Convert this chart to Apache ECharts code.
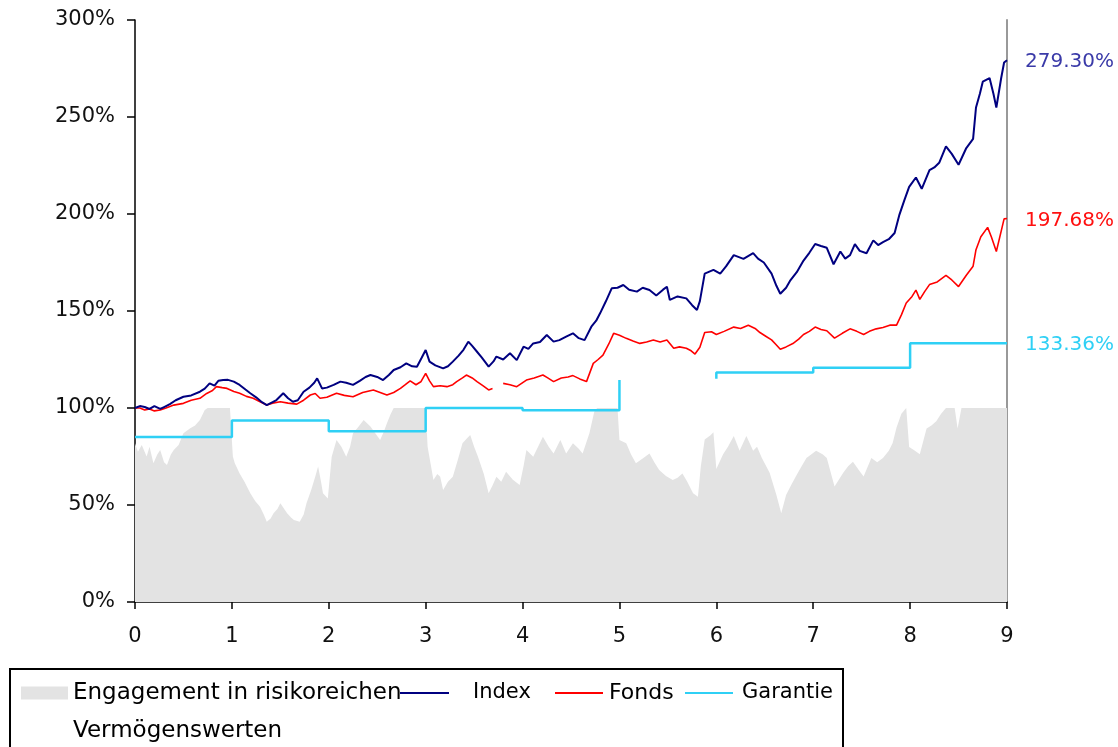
<!DOCTYPE html>
<html>
<head>
<meta charset="utf-8">
<script src="https://cdn.jsdelivr.net/npm/echarts@6/dist/echarts.min.js"></script>
<style>
html,body{margin:0;padding:0;background:#fff;}
#chart{width:1118px;height:747px;}
</style>
</head>
<body>
<div id="chart"></div>
<script>
// ---- data (years, percent) ----
const xTicks = [0,1,2,3,4,5,6,7,8,9];
const seriesNames = ['Engagement in risikoreichen Vermögenswerten','Index','Fonds','Garantie'];

const engagement = [
[0,81.8],[0.03,77.5],[0.07,80.9],[0.12,75],[0.15,80],[0.19,71.5],[0.23,76],[0.26,78.4],[0.3,72],[0.33,70.6],
[0.37,76],[0.4,78.4],[0.45,80.9],[0.5,87],[0.57,89.5],[0.62,91],[0.67,93.8],[0.72,99],[0.75,100],[0.98,100],
[1.01,75],[1.03,71.5],[1.08,66.3],[1.13,62],[1.19,56],[1.24,52],[1.29,49.1],[1.33,45],[1.36,41.4],[1.4,43],
[1.43,45.7],[1.47,48],[1.5,50.9],[1.54,48],[1.57,45.7],[1.61,43.5],[1.64,42.3],[1.7,41.4],[1.74,45],[1.77,50.9],
[1.82,58],[1.86,64.6],[1.89,69.8],[1.92,62],[1.94,56],[1.99,53.4],[2.03,74.9],[2.08,83.5],[2.13,80],[2.18,74.9],
[2.22,80],[2.25,87],[2.3,90],[2.36,93.8],[2.43,90.4],[2.48,87],[2.53,83.5],[2.57,88],[2.6,92.1],[2.64,97],
[2.67,100],[3.0,100],[3.02,80],[3.05,71.5],[3.08,62.9],[3.12,66],[3.15,64.6],[3.18,57.7],[3.23,62],[3.28,64.6],
[3.33,73],[3.38,81.8],[3.42,84],[3.46,86.1],[3.5,80],[3.54,74.9],[3.6,66],[3.65,56],[3.69,60],[3.73,64.6],
[3.78,62],[3.83,67.2],[3.9,63],[3.97,60.3],[4.01,70],[4.04,78.4],[4.11,74.9],[4.16,80],[4.21,85.2],[4.27,80],
[4.32,76.6],[4.39,83.5],[4.45,76.6],[4.52,81.8],[4.58,79],[4.62,76.6],[4.69,87],[4.74,98.1],[4.77,100],[4.98,100],
[5.0,83.5],[5.07,81.8],[5.12,76],[5.17,71.5],[5.24,74],[5.31,76.6],[5.36,72],[5.41,68],[5.48,65],[5.55,62.9],
[5.6,64],[5.65,66.3],[5.7,62],[5.76,56],[5.81,54.3],[5.84,70],[5.88,83.7],[5.94,86],[5.97,87.5],[6.0,68.5],
[6.07,76.1],[6.12,80],[6.18,85.6],[6.24,78],[6.31,85.6],[6.38,78],[6.42,80],[6.47,74.2],[6.55,66.6],[6.62,55.2],
[6.67,45.7],[6.72,55.2],[6.77,60],[6.82,64.7],[6.88,70],[6.93,74.2],[7.03,78],[7.1,76],[7.14,74.2],[7.22,59.5],
[7.31,66.6],[7.36,70],[7.41,72.3],[7.47,68],[7.52,64.7],[7.6,74.2],[7.66,72],[7.72,74.2],[7.78,78],[7.82,81.9],
[7.86,90],[7.91,97.1],[7.96,100],[7.98,100],[7.99,79.9],[8.05,78],[8.1,76.1],[8.17,89.4],[8.22,91],[8.27,93.2],
[8.32,97],[8.37,100],[8.46,100],[8.49,89.4],[8.53,100],[9.0,100]
];

const indexLine = [
[0,100],[0.05,101],[0.1,100.5],[0.15,99.5],[0.2,101],[0.26,99.5],[0.3,100.5],[0.36,102],[0.42,104],[0.5,105.8],
[0.58,106.5],[0.67,108.4],[0.72,110],[0.77,112.7],[0.82,111.5],[0.86,114],[0.91,114.4],[0.96,114.5],[1.02,113.6],[1.08,111.9],
[1.14,109.5],[1.19,107.6],[1.25,105.5],[1.31,103],[1.36,101.5],[1.42,103],[1.46,104.1],[1.53,107.6],[1.58,105],[1.63,103.2],
[1.68,104],[1.74,108.4],[1.8,110.5],[1.85,113],[1.88,115.3],[1.93,110.1],[1.98,110.5],[2.05,111.9],[2.12,113.6],[2.18,113],
[2.25,111.9],[2.32,114],[2.38,116],[2.43,117],[2.5,116],[2.56,114.4],[2.62,117],[2.67,119.6],[2.74,121],[2.8,123],
[2.86,121.5],[2.91,121.3],[2.96,126],[3.0,129.9],[3.04,123.9],[3.1,122],[3.18,120.4],[3.23,121.5],[3.28,123.9],[3.34,127],
[3.39,130],[3.44,134.2],[3.48,132],[3.53,129],[3.58,126],[3.65,121.3],[3.7,124],[3.73,126.5],[3.8,125],[3.87,128.2],
[3.94,124.7],[4.01,131.6],[4.06,130.5],[4.11,133.3],[4.18,134],[4.25,137.6],[4.32,134.2],[4.38,135],[4.45,136.8],[4.52,138.5],
[4.58,136],[4.64,135],[4.71,141.9],[4.76,145],[4.8,148.8],[4.86,155],[4.92,161.7],[4.98,162],[5.04,163.4],[5.1,161],
[5.18,160],[5.24,162],[5.31,160.8],[5.38,158],[5.45,161],[5.49,162.5],[5.52,155.7],[5.6,157.5],[5.69,156.5],[5.75,153],
[5.8,150.5],[5.83,155.1],[5.88,169.3],[5.97,171.2],[6.04,169.3],[6.1,173],[6.18,178.8],[6.28,176.9],[6.38,179.8],[6.43,177],
[6.49,175],[6.57,169.3],[6.62,163],[6.66,158.9],[6.72,162],[6.76,165.5],[6.83,170],[6.9,176],[6.96,180],[7.02,184.5],
[7.08,183.5],[7.14,182.6],[7.21,174.1],[7.28,180.7],[7.33,177],[7.38,178.8],[7.43,184.5],[7.48,181],[7.55,179.8],[7.62,186.4],
[7.67,184],[7.72,185.5],[7.78,187],[7.84,190.2],[7.89,199.7],[7.94,207],[7.99,214],[8.06,218.8],[8.12,213],[8.2,222.6],
[8.25,224],[8.3,226.4],[8.37,234.9],[8.43,231],[8.5,225.4],[8.58,234],[8.65,238.7],[8.68,254.9],[8.72,262],[8.75,268.2],
[8.82,270.1],[8.86,262],[8.89,254.9],[8.94,270.1],[8.97,278.1],[9.0,279.3]
];

const fondsLine = [
[0,100],[0.05,100],[0.1,99],[0.15,99.5],[0.2,98.5],[0.26,99],[0.32,100],[0.4,101.5],[0.5,102.4],[0.58,104],
[0.67,105],[0.74,107.5],[0.8,109],[0.84,111],[0.9,110.5],[0.95,110.1],[1.02,108.5],[1.08,107.6],[1.15,106],[1.22,105],
[1.28,103.5],[1.36,101.5],[1.42,102.5],[1.5,103.2],[1.58,102.5],[1.67,102],[1.74,104],[1.81,106.7],[1.86,107.5],[1.91,105],
[1.98,105.5],[2.08,107.6],[2.16,106.5],[2.25,105.8],[2.35,108],[2.46,109.3],[2.53,108],[2.6,106.7],[2.67,108],[2.74,110.1],
[2.79,112],[2.84,114],[2.9,112],[2.95,113.5],[3.0,117.9],[3.04,114],[3.08,111],[3.15,111.5],[3.22,111],[3.28,112],
[3.32,113.6],[3.38,115.5],[3.42,117],[3.48,115.5],[3.53,113.6],[3.59,111.5],[3.65,109.3],[3.69,110],[3.75,'-'],[3.8,112.7],
[3.87,112],[3.94,111],[4.04,114.4],[4.12,115.5],[4.21,117],[4.26,115.5],[4.32,113.6],[4.4,115.5],[4.47,116],[4.52,116.7],
[4.59,115],[4.66,113.6],[4.73,123],[4.78,125],[4.83,127.3],[4.89,133],[4.94,138.5],[5.0,137.5],[5.07,135.9],[5.14,134.5],
[5.21,133.3],[5.28,134],[5.35,135],[5.42,134],[5.49,135],[5.56,130.8],[5.62,131.5],[5.69,130.8],[5.74,129.5],[5.78,127.8],
[5.83,131.3],[5.88,138.9],[5.95,139.3],[6.0,137.9],[6.08,139.5],[6.18,141.7],[6.25,141],[6.33,142.7],[6.4,141],[6.45,138.9],
[6.51,137],[6.57,135.1],[6.62,132.5],[6.66,130.3],[6.72,131.5],[6.79,133.2],[6.85,135.5],[6.9,137.9],[6.96,139.5],[7.02,141.7],
[7.08,140.5],[7.14,139.8],[7.22,136],[7.3,138.5],[7.38,140.8],[7.45,139.5],[7.52,137.9],[7.58,139.5],[7.65,140.8],[7.72,141.5],
[7.79,142.7],[7.86,142.7],[7.91,148],[7.96,154.1],[8.02,157.5],[8.06,160.8],[8.1,156],[8.15,160],[8.2,163.6],[8.28,165],
[8.37,168.4],[8.43,166],[8.5,162.6],[8.58,168.4],[8.65,173.1],[8.68,181.6],[8.73,188.3],[8.8,193.1],[8.84,188],[8.89,180.7],
[8.94,191.2],[8.97,197.5],[9.0,197.68]
];

const garantieLine = [
[0,85],[1,85],[1,93.5],[2,93.5],[2,88],[3,88],[3,100],[4,100],[4,98.8],[5,98.8],[5,114.4],[5.5,'-'],
[6,115.1],[6,118.3],[7,118.3],[7,120.8],[8,120.8],[8,133.36],[9,133.36]
];

const FONT = 'DejaVu Sans';
const chart = echarts.init(document.getElementById('chart'), null, {renderer:'canvas'});

function endLbl(color){
  return {
    show:true, distance:18, color:color, fontFamily:FONT, fontSize:20, offset:[0,2],
    formatter:function(p){ return p.value[1].toFixed(2) + '%'; }
  };
}

const option = {
  animation:false,
  backgroundColor:'#fff',
  graphic:[{
    type:'rect', z:0,
    shape:{x:10, y:669, width:833, height:100},
    style:{fill:'#fff', stroke:'#000', lineWidth:2}
  }],
  grid:{left:135, right:111, top:20, bottom:145},
  xAxis:{
    type:'value', min:0, max:9, interval:1,
    axisLine:{show:true, lineStyle:{color:'#000', width:1.5}},
    axisTick:{show:true, length:7, lineStyle:{color:'#000', width:1.5}},
    axisLabel:{color:'#111', fontFamily:FONT, fontSize:21, margin:24,
      formatter:function(v){ return xTicks.indexOf(v) >= 0 ? String(v) : ''; }},
    splitLine:{show:false}
  },
  yAxis:[{
    type:'value', min:0, max:300, interval:50,
    axisLine:{show:true, lineStyle:{color:'#000', width:1.5}},
    axisTick:{show:true, length:8, lineStyle:{color:'#000', width:1.5}},
    axisLabel:{color:'#111', fontFamily:FONT, fontSize:21, margin:20, formatter:'{value}%',
      padding:[4,0,0,0]},
    splitLine:{show:false}
  },{
    type:'value', min:0, max:300, interval:50, position:'right',
    axisLine:{show:true, lineStyle:{color:'#999', width:2}},
    axisTick:{show:false}, axisLabel:{show:false}, splitLine:{show:false}
  }],
  legend:[{
    z:10, left:21, top:636, padding:0, orient:'horizontal',
    data:[{name:seriesNames[0], icon:'rect'}],
    itemWidth:47, itemHeight:13,
    formatter:function(){ return '{e|}\n{t|Engagement in risikoreichen}\n{t|Vermögenswerten}'; },
    textStyle:{color:'#000', fontFamily:FONT, fontSize:23, lineHeight:38,
      rich:{
        e:{fontSize:23, lineHeight:38, fontFamily:FONT},
        t:{fontSize:23, lineHeight:38, fontFamily:FONT, color:'#000'}
      }},
    selectedMode:false
  },{
    z:10, left:400, top:676, padding:0,
    data:[{name:seriesNames[1], icon:'rect'}],
    itemWidth:49, itemHeight:2,
    textStyle:{color:'#000', fontFamily:FONT, fontSize:21, lineHeight:28, padding:[0,0,6,19]},
    selectedMode:false
  },{
    z:10, left:555, top:679, padding:0,
    data:[{name:seriesNames[2], icon:'rect'}],
    itemWidth:48, itemHeight:2,
    textStyle:{color:'#000', fontFamily:FONT, fontSize:22, lineHeight:28, padding:[0,0,0,1]},
    selectedMode:false
  },{
    z:10, left:685, top:679, padding:0,
    data:[{name:seriesNames[3], icon:'rect'}],
    itemWidth:48, itemHeight:2,
    textStyle:{color:'#000', fontFamily:FONT, fontSize:21, lineHeight:28, padding:[0,0,0,4]},
    selectedMode:false
  }],
  series:[{
    name:seriesNames[0], type:'line', data:engagement, showSymbol:false, symbol:'none',
    color:'#e3e3e3', lineStyle:{width:0, color:'#e3e3e3'},
    areaStyle:{color:'#e3e3e3', opacity:1}, z:1
  },{
    name:seriesNames[3], type:'line', data:garantieLine, showSymbol:false, symbol:'none',
    color:'#2fd0f5', lineStyle:{width:2.5, color:'#2fd0f5'}, z:3,
    endLabel:endLbl('#2fd0f5')
  },{
    name:seriesNames[2], type:'line', data:fondsLine, showSymbol:false, symbol:'none',
    color:'#ff0000', lineStyle:{width:1.6, color:'#ff0000'}, z:4,
    endLabel:endLbl('#ff1010')
  },{
    name:seriesNames[1], type:'line', data:indexLine, showSymbol:false, symbol:'none',
    color:'#000080', lineStyle:{width:2, color:'#000080'}, z:5,
    endLabel:endLbl('#3a3aa8')
  }]
};
chart.setOption(option);
</script>
</body>
</html>
